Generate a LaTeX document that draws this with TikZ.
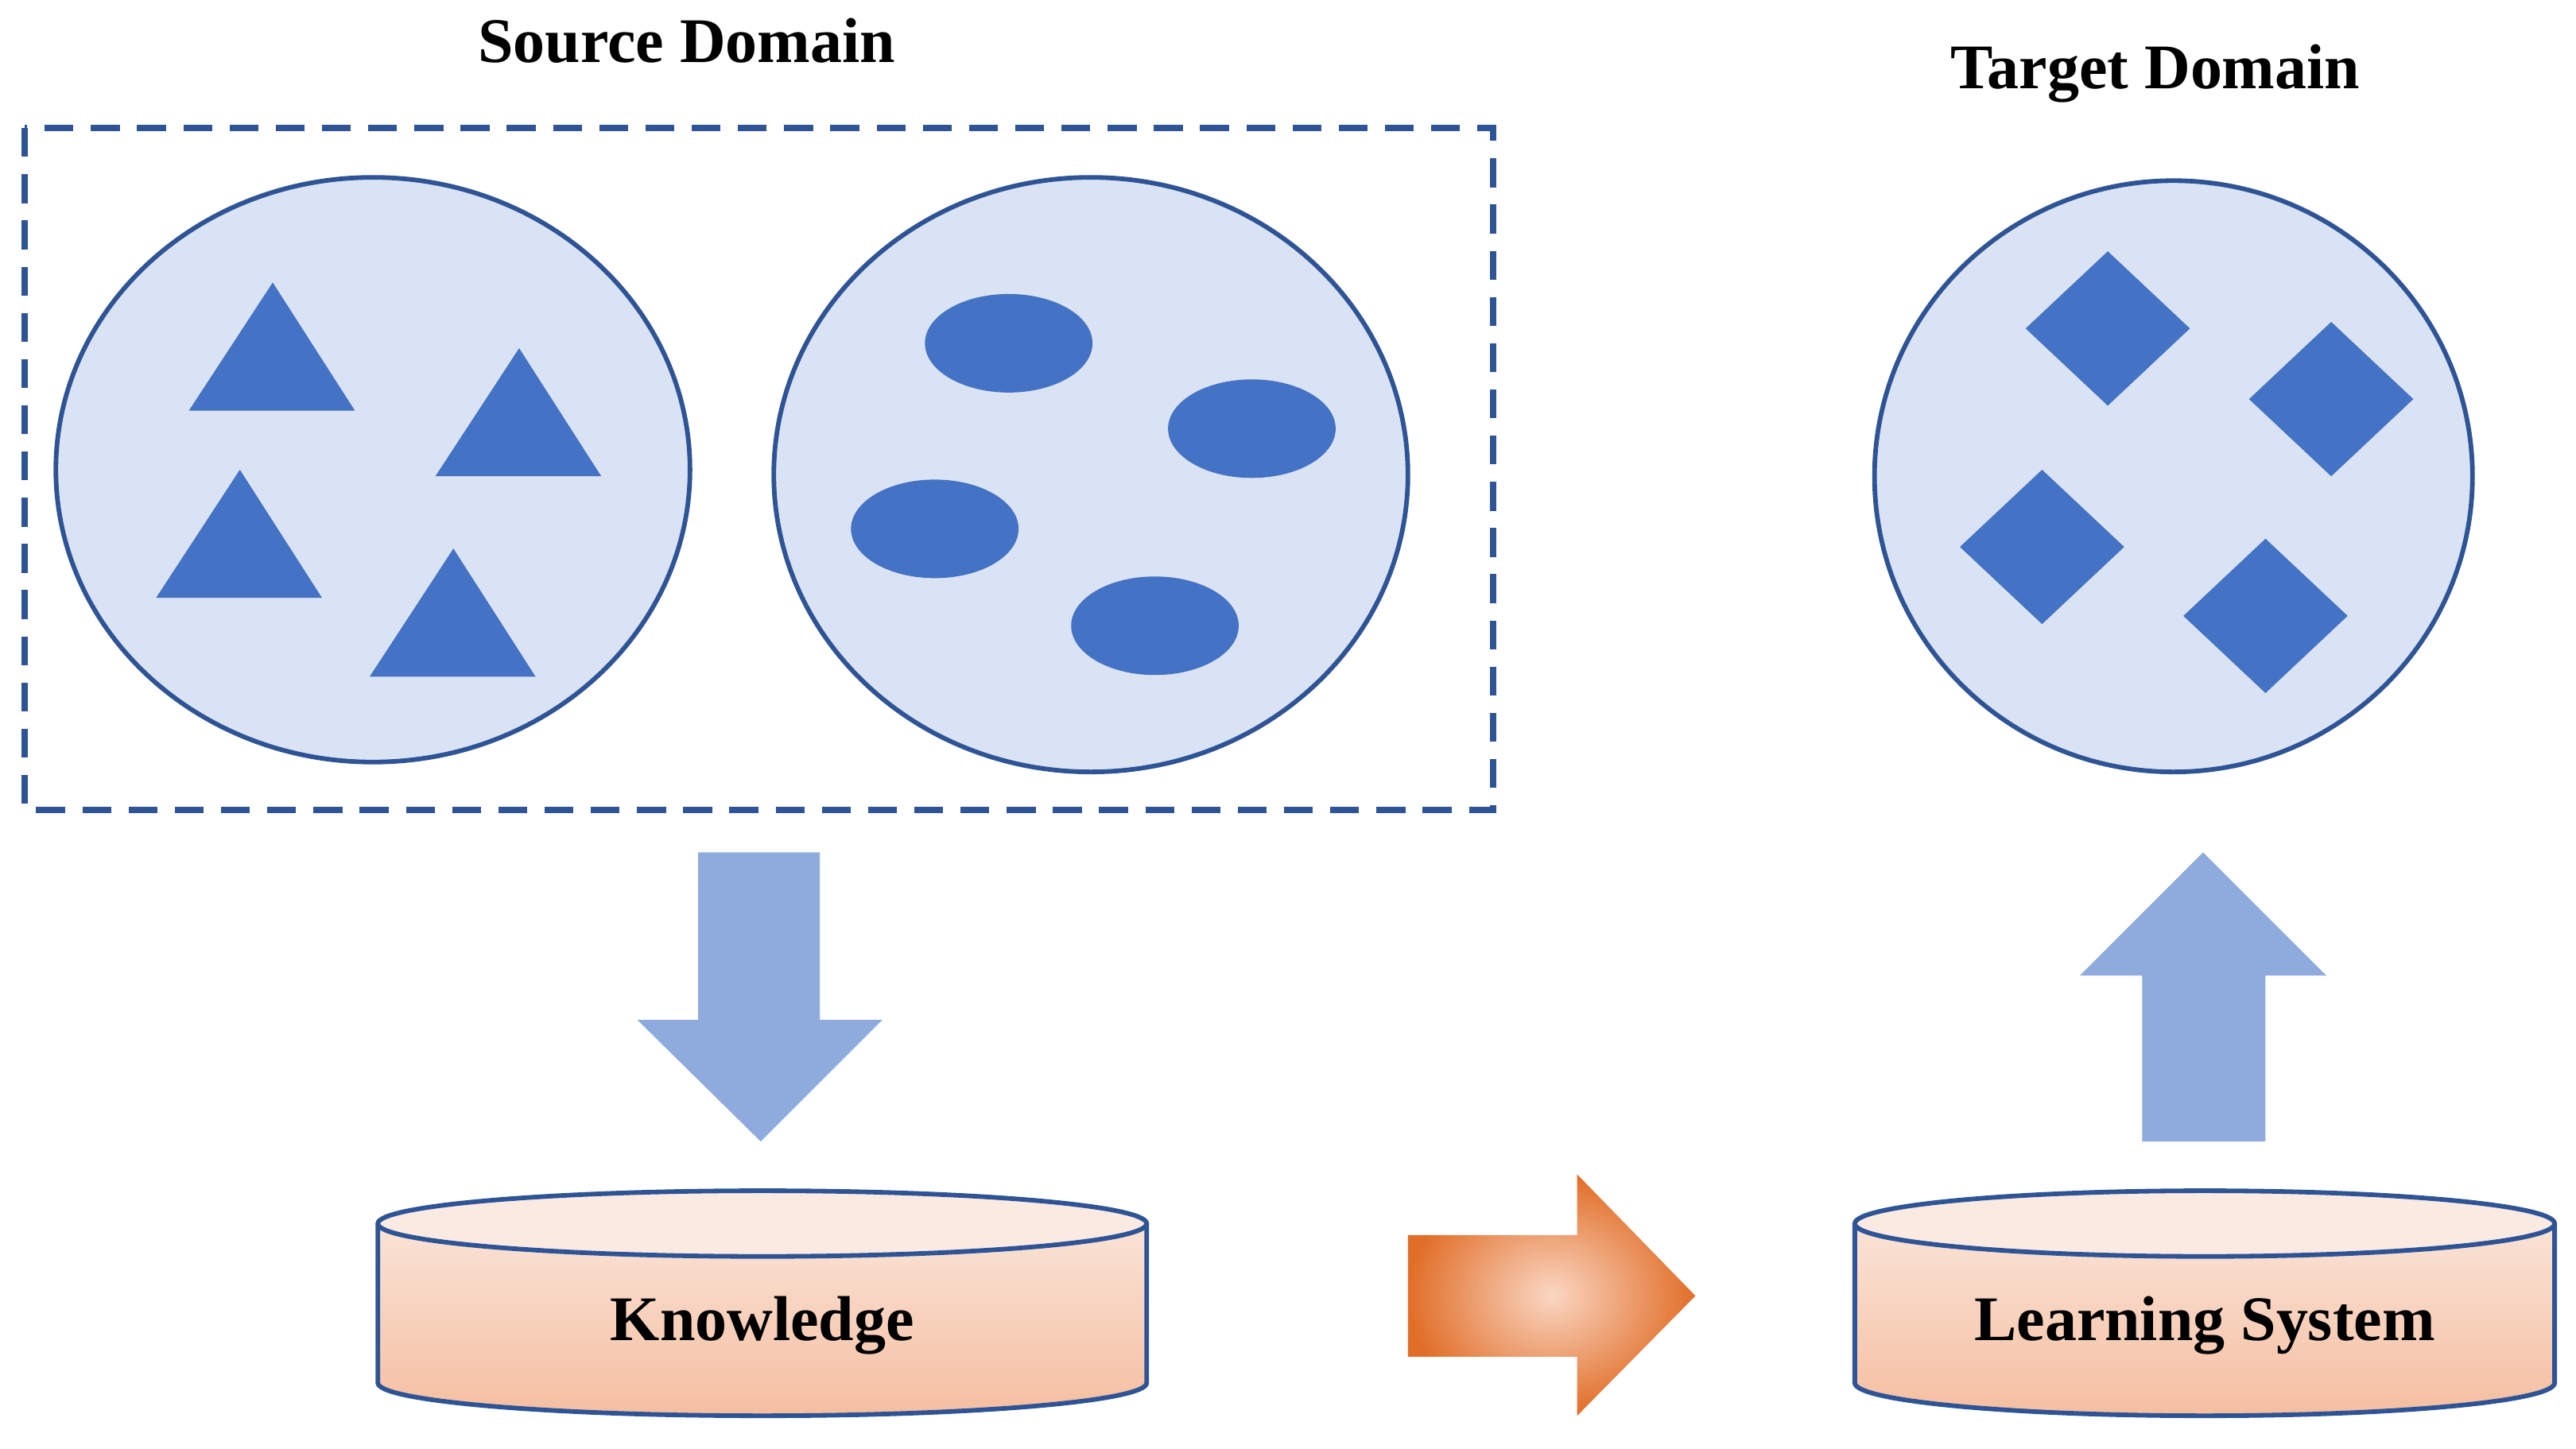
\documentclass[tikz,border=0pt]{standalone}
\usepackage{fontspec}
\setmainfont{Liberation Serif}
\begin{document}
\definecolor{edge}{RGB}{47,84,150}
\definecolor{pale}{RGB}{218,227,243}
\definecolor{shp}{RGB}{68,114,196}
\definecolor{arr}{RGB}{143,170,220}
\definecolor{cyltop}{RGB}{251,234,225}
\definecolor{cylbot}{RGB}{245,190,160}
\definecolor{orin}{RGB}{250,215,195}
\definecolor{orout}{RGB}{225,110,40}
\begin{tikzpicture}[x=0.01cm,y=-0.01cm,
  dom/.style={draw=edge,fill=pale,line width=0.8pt},
  sh/.style={fill=shp,draw=none},
  bigarr/.style={fill=arr,draw=none},
  lbl/.style={font=\bfseries\fontsize{11}{13}\selectfont},
  cyl/.style={draw=edge,line width=0.8pt}]
\useasboundingbox (0,0) rectangle (1568,882);
\node[lbl] (src) at (418,25) {Source Domain};
\node[lbl] (tgt) at (1312,45) {Target Domain};
\draw[edge,dashed,line width=1.1pt,dash pattern=on 5pt off 3pt] (15,78) rectangle (909,493);
\draw[dom] (227,286) ellipse [x radius=193,y radius=178];
\foreach \x/\y in {115/250,265/290,95/364,225/412}
  \fill[sh] (\x,\y) -- ++(51,-78) -- ++(50,78) -- cycle;
\draw[dom] (664,289) ellipse [x radius=193,y radius=181];
\foreach \x/\y in {614/209,762/261,569/322,703/381}
  \fill[sh] (\x,\y) ellipse [x radius=51,y radius=30];
\draw[dom] (1323,290) ellipse [x radius=182,y radius=180];
\foreach \x/\y in {1283/200,1419/243,1243/333,1379/375}
  \fill[sh] (\x-50,\y) -- (\x,\y-47) -- (\x+50,\y) -- (\x,\y+47) -- cycle;
\fill[bigarr] (425,519) -- (499,519) -- (499,621) -- (537,621) -- (463,695) -- (388,621) -- (425,621) -- cycle;
\fill[bigarr] (1304,695) -- (1379,695) -- (1379,594) -- (1416,594) -- (1341,519) -- (1266,594) -- (1304,594) -- cycle;
% cylinders
\foreach \a/\b/\t/\n in {230/698/Knowledge/know,1129/1555/Learning System/learn}{
  \pgfmathsetmacro{\c}{(\a+\b)/2}
  \pgfmathsetmacro{\r}{(\b-\a)/2}
  \shade[top color=cyltop,bottom color=cylbot] (\a,745) -- (\a,842) arc[start angle=180,end angle=0,x radius=\r,y radius=20] -- (\b,745) arc[start angle=0,end angle=-180,x radius=\r,y radius=20];
  \draw[cyl] (\a,745) -- (\a,842) arc[start angle=180,end angle=0,x radius=\r,y radius=20] -- (\b,745);
  \draw[cyl,fill=cyltop] (\c,745) ellipse [x radius=\r,y radius=20];
  \node[lbl] (\n) at (\c,807) {\t};
}
\shade[inner color=orin,outer color=orout] (857,752) -- (960,752) -- (960,715) -- (1032,789) -- (960,862) -- (960,826) -- (857,826) -- cycle;
\end{tikzpicture}
\end{document}
